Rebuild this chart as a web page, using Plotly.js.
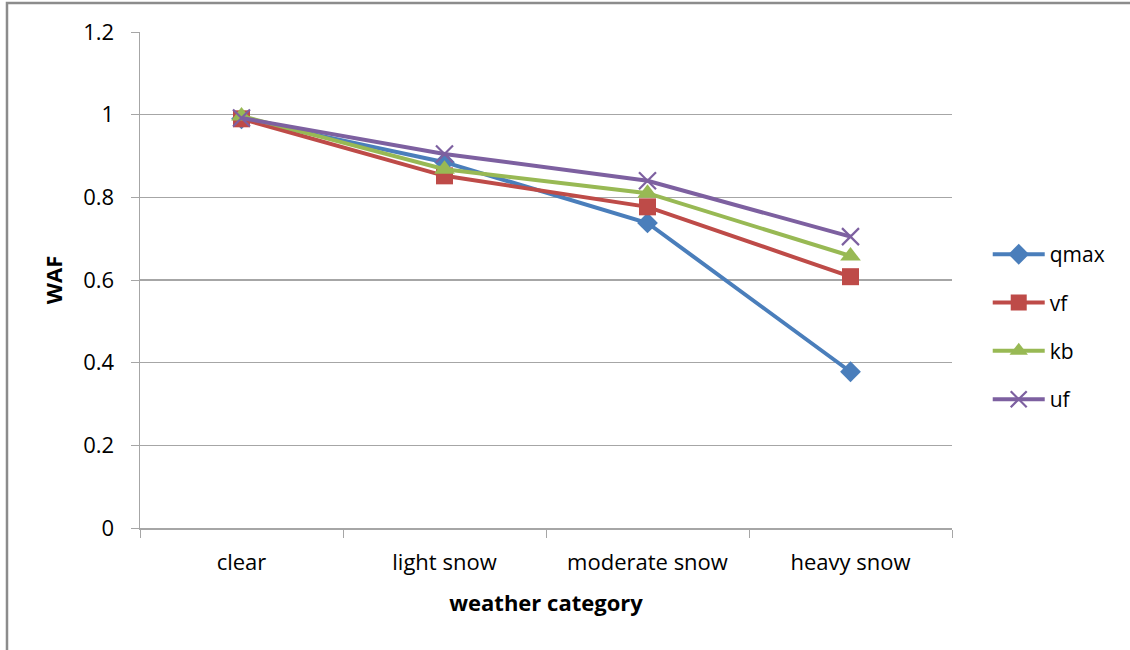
<!DOCTYPE html>
<html>
<head>
<meta charset="utf-8">
<script src="https://cdn.plot.ly/plotly-3.0.1.min.js"></script>
<style>
  html, body { margin: 0; padding: 0; background: #fff; }
  #chart { width: 1130px; height: 650px; }
</style>
</head>
<body>
<div id="chart"></div>
<script>
// Weather adjustment factors by weather category
const categories = ["clear", "light snow", "moderate snow", "heavy snow"];
const qmax = [0.99, 0.885, 0.738, 0.378];
const vf   = [0.99, 0.852, 0.777, 0.608];
const kb   = [0.997, 0.868, 0.81, 0.658];
const uf   = [0.992, 0.905, 0.84, 0.705];

const FONT = "'Open Sans', 'Liberation Sans', sans-serif";
const GRID = "#a6a6a6";
const FS = 22;

function series(name, values, color, symbol, size) {
  return {
    type: "scatter",
    mode: "lines+markers",
    name: name,
    legendgroup: name,
    x: categories,
    y: values,
    line: { color: color, width: 4 },
    marker: {
      symbol: symbol,
      size: size,
      color: color,
      line: { color: color, width: symbol === "x-thin" ? 2.2 : 0 }
    }
  };
}

const traces = [
  series("qmax", qmax, "#4A7EBB", "diamond", 16),
  series("vf", vf, "#BE4B48", "square", 17),
  series("kb", kb, "#98B954", "triangle-up", 18),
  series("uf", uf, "#7D60A0", "x-thin", 17)
];

const layout = {
  width: 1130,
  height: 650,
  margin: { l: 140, r: 178, t: 32, b: 122 },
  paper_bgcolor: "#ffffff",
  plot_bgcolor: "#ffffff",
  font: { family: FONT, size: FS, color: "#000" },
  showlegend: true,
  legend: {
    x: 1.044, xanchor: "left",
    y: 0.405, yanchor: "middle",
    font: { family: FONT, size: FS - 1, color: "#000" },
    tracegroupgap: 18,
    itemwidth: 52,
    bgcolor: "rgba(0,0,0,0)"
  },
  xaxis: {
    type: "category",
    range: [-0.5, 3.5],
    tickson: "boundaries",
    ticks: "outside",
    ticklen: 8,
    tickcolor: GRID,
    tickwidth: 1,
    showline: true,
    linecolor: GRID,
    linewidth: 1.5,
    showgrid: false,
    ticklabelstandoff: 14,
    tickfont: { family: FONT, size: FS, color: "#000" },
    title: {
      text: "weather category",
      font: { family: FONT, size: FS, color: "#000", weight: "bold" },
      standoff: 20
    },
    fixedrange: true
  },
  yaxis: {
    range: [0, 1.2],
    dtick: 0.2,
    tickformat: "~g",
    ticks: "outside",
    ticklen: 8,
    tickcolor: GRID,
    tickwidth: 1,
    showline: true,
    linecolor: GRID,
    linewidth: 1.5,
    showgrid: true,
    gridcolor: GRID,
    gridwidth: 1.2,
    zeroline: false,
    ticklabelstandoff: 12,
    tickfont: { family: FONT, size: FS, color: "#000" },
    title: {
      text: "WAF",
      font: { family: FONT, size: FS, color: "#000", weight: "bold" },
      standoff: 14
    },
    fixedrange: true
  },
  shapes: [
    {
      // outer frame, left and top edges
      type: "path",
      xref: "paper", yref: "paper",
      path: "M -0.1638 -0.26 L -0.1638 1.0585 L 1.25 1.0585",
      line: { color: "#8c8c8c", width: 2.5 },
      layer: "below"
    }
  ]
};

Plotly.newPlot("chart", traces, layout, { displayModeBar: false, staticPlot: true });
</script>
</body>
</html>
